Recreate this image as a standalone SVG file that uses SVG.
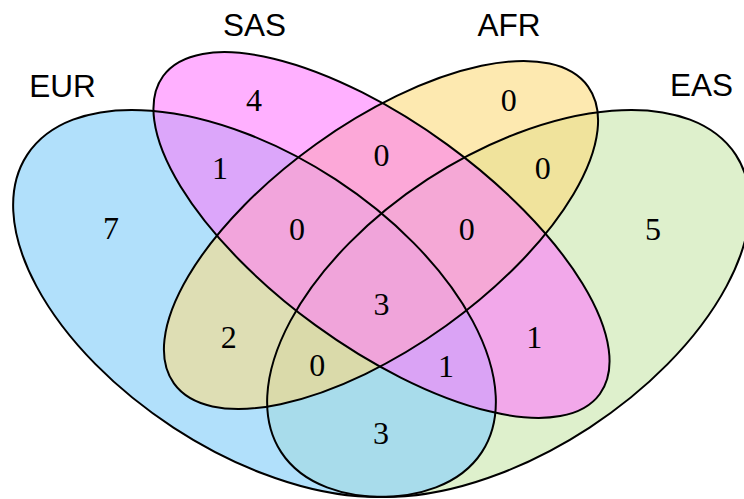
<svg xmlns="http://www.w3.org/2000/svg" xmlns:xlink="http://www.w3.org/1999/xlink" width="744" height="499" viewBox="0 0 744 499">
<style>
.outline{fill:none;stroke:#000;stroke-width:2}
.lbl{font-family:"Liberation Sans",Arial,sans-serif;font-size:31.5px;fill:#000;text-anchor:middle}
.num{font-family:"Liberation Serif","Times New Roman",serif;font-size:32px;fill:#000;text-anchor:middle}
</style>
<defs>
<ellipse id="eEUR" cx="254.5" cy="303.5" rx="271.6" ry="148.2" transform="rotate(33.17 254.5 303.5)"/>
<ellipse id="eSAS" cx="381.5" cy="235" rx="270.1" ry="111.8" transform="rotate(36.06 381.5 235)"/>
<ellipse id="eAFR" cx="381" cy="235" rx="254.8" ry="111.7" transform="rotate(-35.63 381 235)"/>
<ellipse id="eEAS" cx="508.5" cy="303.5" rx="271.6" ry="148.2" transform="rotate(-33.17 508.5 303.5)"/>
<clipPath id="cEUR"><use xlink:href="#eEUR"/></clipPath>
<clipPath id="cSAS"><use xlink:href="#eSAS"/></clipPath>
<clipPath id="cAFR"><use xlink:href="#eAFR"/></clipPath>
<clipPath id="cEUR_SAS" clip-path="url(#cEUR)"><use xlink:href="#eSAS"/></clipPath>
<clipPath id="cEUR_AFR" clip-path="url(#cEUR)"><use xlink:href="#eAFR"/></clipPath>
<clipPath id="cSAS_AFR" clip-path="url(#cSAS)"><use xlink:href="#eAFR"/></clipPath>
<clipPath id="cEUR_SAS_AFR" clip-path="url(#cEUR_SAS)"><use xlink:href="#eAFR"/></clipPath>
</defs>
<g id="regions">
<use xlink:href="#eEUR" fill="#B1E0FB"/>
<use xlink:href="#eSAS" fill="#FFB0FF"/>
<use xlink:href="#eAFR" fill="#FDE9B0"/>
<use xlink:href="#eEAS" fill="#DEF0CC"/>
<use xlink:href="#eSAS" clip-path="url(#cEUR)" fill="#DCA6FA"/>
<use xlink:href="#eAFR" clip-path="url(#cEUR)" fill="#DEDEB4"/>
<use xlink:href="#eEAS" clip-path="url(#cEUR)" fill="#A8DCEB"/>
<use xlink:href="#eAFR" clip-path="url(#cSAS)" fill="#FCA8D8"/>
<use xlink:href="#eEAS" clip-path="url(#cSAS)" fill="#F2A8EA"/>
<use xlink:href="#eEAS" clip-path="url(#cAFR)" fill="#F0E39C"/>
<use xlink:href="#eAFR" clip-path="url(#cEUR_SAS)" fill="#F2A5DC"/>
<use xlink:href="#eEAS" clip-path="url(#cSAS_AFR)" fill="#F5A8D6"/>
<use xlink:href="#eEAS" clip-path="url(#cEUR_AFR)" fill="#DADAAA"/>
<use xlink:href="#eEAS" clip-path="url(#cEUR_SAS)" fill="#DAA3F5"/>
<use xlink:href="#eEAS" clip-path="url(#cEUR_SAS_AFR)" fill="#F0A4DA"/>
</g>
<g id="EUR"><use xlink:href="#eEUR" class="outline"/><text class="lbl" x="62.5" y="97">EUR</text></g>
<g id="SAS"><use xlink:href="#eSAS" class="outline"/><text class="lbl" x="254.5" y="36">SAS</text></g>
<g id="AFR"><use xlink:href="#eAFR" class="outline"/><text class="lbl" x="509" y="36">AFR</text></g>
<g id="EAS"><use xlink:href="#eEAS" class="outline"/><text class="lbl" x="701.5" y="96">EAS</text></g>
<g id="counts">
<text class="num" x="254" y="111">4</text>
<text class="num" x="220" y="179">1</text>
<text class="num" x="111" y="239">7</text>
<text class="num" x="297" y="240">0</text>
<text class="num" x="381.5" y="166">0</text>
<text class="num" x="508.7" y="111">0</text>
<text class="num" x="542.7" y="179">0</text>
<text class="num" x="466.7" y="240">0</text>
<text class="num" x="653" y="240">5</text>
<text class="num" x="381.5" y="315">3</text>
<text class="num" x="228.7" y="348">2</text>
<text class="num" x="317.3" y="376">0</text>
<text class="num" x="446" y="377">1</text>
<text class="num" x="534.3" y="348">1</text>
<text class="num" x="381" y="444">3</text>
</g>
</svg>
